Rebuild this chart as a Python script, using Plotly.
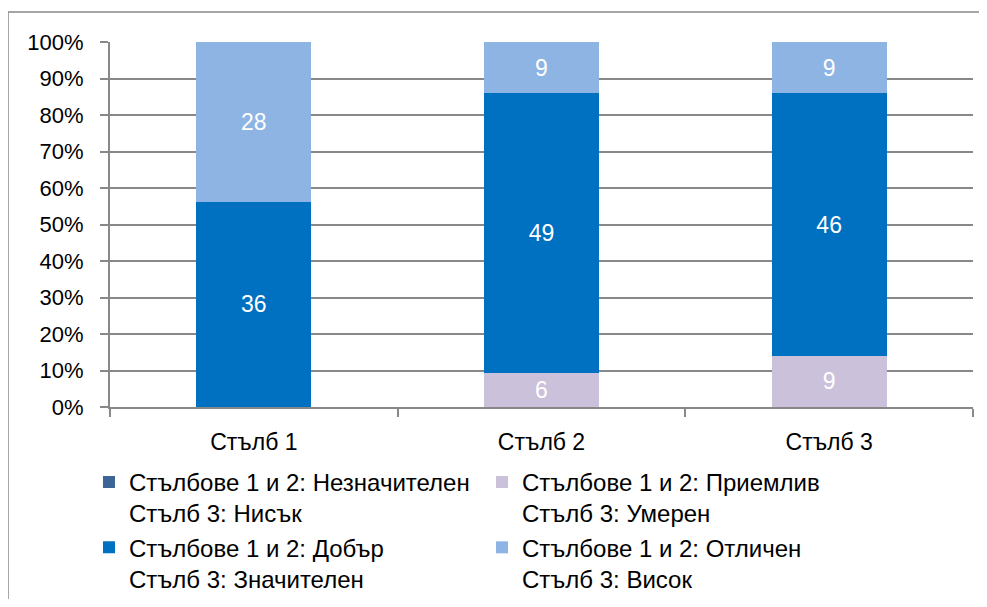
import plotly.graph_objects as go

categories = ["Стълб 1", "Стълб 2", "Стълб 3"]
series_names = [
    "Стълбове 1 и 2: Незначителен<br>Стълб 3: Нисък",
    "Стълбове 1 и 2: Приемлив<br>Стълб 3: Умерен",
    "Стълбове 1 и 2: Добър<br>Стълб 3: Значителен",
    "Стълбове 1 и 2: Отличен<br>Стълб 3: Висок",
]
values_neznachitelen = [0, 0, 0]
values_priemliv = [0, 6, 9]
values_dobar = [36, 49, 46]
values_otlichen = [28, 9, 9]
colors = ["#3C6496", "#CCC1DA", "#0070C0", "#8EB4E3"]

FONT = "Liberation Sans, Arial, sans-serif"
GRID = "#888888"

fig = go.Figure()
for name, vals, col in zip(series_names,
                           [values_neznachitelen, values_priemliv, values_dobar, values_otlichen],
                           colors):
    fig.add_trace(go.Bar(
        x=categories, y=vals, name=name,
        marker=dict(color=col, line=dict(width=0)),
        text=[str(v) if v else "" for v in vals],
        textposition="inside", insidetextanchor="middle", textangle=0,
        textfont=dict(color="white", size=23, family=FONT),
        constraintext="none",
    ))

fig.update_layout(
    barmode="stack", barnorm="percent", bargap=0.6,
    width=971, height=591,
    margin=dict(l=102, r=6, t=34, b=192),
    paper_bgcolor="white", plot_bgcolor="white",
    font=dict(family=FONT, size=22, color="black"),
    showlegend=True,
    legend=dict(
        orientation="h", xref="container", x=0.0834, xanchor="left",
        yref="container", y=0.2355, yanchor="top",
        entrywidth=348, entrywidthmode="pixels", valign="top",
        font=dict(size=24, family=FONT, color="black"),
        traceorder="normal",
    ),
    xaxis=dict(
        showline=True, linecolor=GRID, linewidth=2,
        ticks="outside", tickson="boundaries", ticklen=8, tickcolor=GRID, tickwidth=2,
        showgrid=False, tickfont=dict(size=23), ticklabelstandoff=13,
    ),
    yaxis=dict(
        range=[0, 100], dtick=10, ticksuffix="%",
        showline=True, linecolor=GRID, linewidth=2,
        ticks="outside", ticklen=8, tickcolor=GRID, tickwidth=2,
        showgrid=True, gridcolor=GRID, gridwidth=2, zeroline=False,
        tickfont=dict(size=22), ticklabelstandoff=12,
    ),
    shapes=[
        dict(type="line", xref="paper", yref="paper", x0=-0.1182, x1=1.2, y0=1.0822, y1=1.0822,
             line=dict(color=GRID, width=1.5)),
        dict(type="line", xref="paper", yref="paper", x0=-0.1182, x1=-0.1182, y0=-1, y1=1.0822,
             line=dict(color=GRID, width=1.5)),
    ],
)

fig.write_html("out.html")
